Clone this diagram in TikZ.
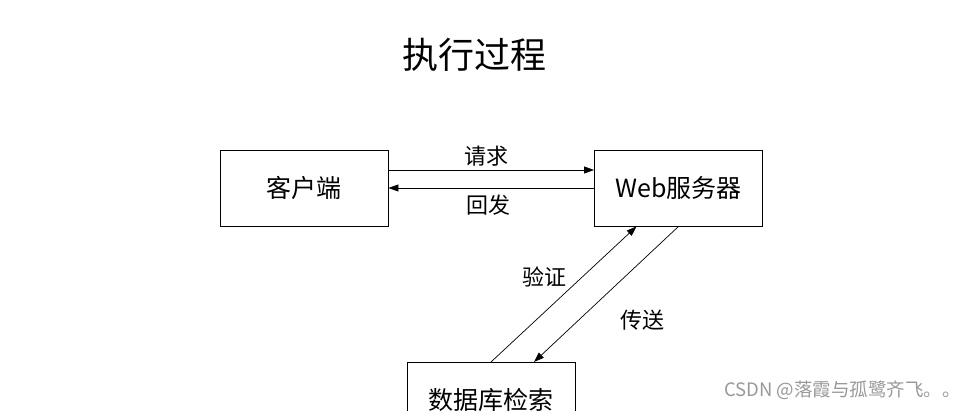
\documentclass[tikz,border=0pt]{standalone}
\usepackage{fontspec}
\setmainfont{Noto Sans CJK SC}
\usetikzlibrary{arrows.meta}
\tikzset{
  blk/.style={draw,line width=0.9pt,minimum width=168pt,minimum height=76pt,inner sep=0pt,font=\fontsize{25}{28}\selectfont},
  lbl/.style={font=\fontsize{22}{26}\selectfont},
  flow/.style={line width=0.7pt,-{Triangle[length=10pt,width=7pt]}}
}
\begin{document}
\begin{tikzpicture}[x=1pt,y=1pt]
\clip(0,0)rectangle(977,411);
\fill[white](0,0)rectangle(977,411);
\node[font=\fontsize{36}{40}\selectfont](title)at(474,356){执行过程};
\node[blk](client)at(304,223){客户端};
\node[blk](server)at(678.5,223){Web服务器};
\node[blk,anchor=north](db)at(491,49){数据库检索};
\draw[flow]([yshift=18pt]client.east)--([yshift=18pt]server.west)node[lbl,midway,above=0pt,xshift=-5pt]{请求};
\draw[flow](server.west)--(client.east)node[lbl,midway,below=3pt,xshift=-3pt]{回发};
\draw[flow](db.north)--([xshift=-42pt]server.south)node[lbl,pos=0.63,left=12pt]{验证};
\draw[flow](server.south)--([xshift=43pt]db.north)node[lbl,pos=0.69,right=38pt]{传送};
\node[text=gray!80,font=\fontsize{18.5}{22}\selectfont,anchor=east,inner sep=0pt](mark)at(961,21){CSDN @落霞与孤鹭齐飞。。};
\end{tikzpicture}
\end{document}
